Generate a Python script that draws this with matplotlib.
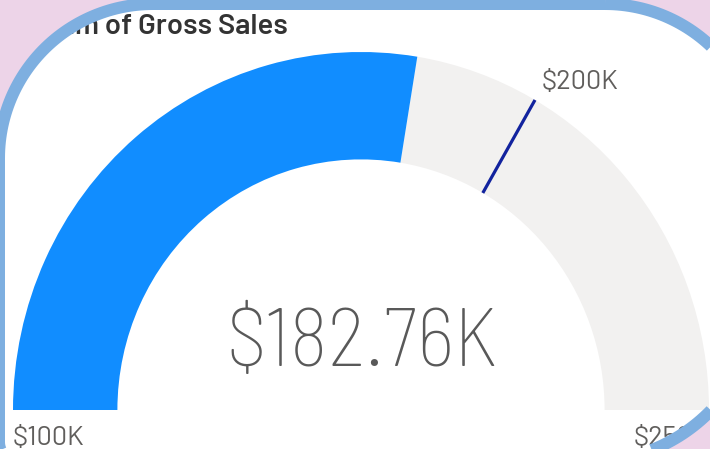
import matplotlib
matplotlib.use("Agg")
import numpy as np
import matplotlib.pyplot as plt
from matplotlib.patches import Wedge, Polygon, PathPatch
from matplotlib.path import Path

# ---- data (thousands of $) ----
gauge_min = 100.0
gauge_max = 250.0
gauge_value = 182.76
gauge_target = 200.0
title_text = "Sum of Gross Sales"
min_label = "$100K"
max_label = "$250K"
target_label = "$200K"
value_label = "$182.76K"

# ---- colours ----
PINK = "#EDD4E8"
BORDER = "#7EAFE0"
BLUE = "#118DFF"
GREY = "#F2F1F0"
TARGET = "#12239E"
LABEL = "#605E5C"
VALUE = "#595959"
TITLE = "#333333"

VALUE_FONT = ["Barlow Semi Condensed", "IBM Plex Sans Condensed", "DejaVu Sans"]
LABEL_FONT = ["Barlow", "IBM Plex Sans", "DejaVu Sans"]

W, H = 710, 449
fig = plt.figure(figsize=(W / 100, H / 100), dpi=100)

# background axes in pixel coordinates
bg = fig.add_axes([0, 0, 1, 1])
bg.set_xlim(0, W)
bg.set_ylim(H, 0)
bg.axis("off")
bg.add_patch(plt.Rectangle((0, 0), W, H, facecolor=PINK, edgecolor="none", zorder=0))


def rounded_rect(xa, ya, xb, yb, radii, n=60):
    r_tr, r_br, r_bl, r_tl = radii
    pts = []
    corners = [(xb - r_tr, ya + r_tr, r_tr, -90, 0), (xb - r_br, yb - r_br, r_br, 0, 90),
               (xa + r_bl, yb - r_bl, r_bl, 90, 180), (xa + r_tl, ya + r_tl, r_tl, 180, 270)]
    for ccx, ccy, r, a0, a1 in corners:
        t = np.radians(np.linspace(a0, a1, n))
        pts += list(zip(ccx + r * np.cos(t), ccy + r * np.sin(t)))
    return np.array(pts)


card_pts = rounded_rect(-1, 4, 759, 462, (154, 170, 20, 154))
card = Polygon(card_pts, closed=True, facecolor="white", edgecolor="none", zorder=1)
bg.add_patch(card)

# gauge axes: centre (0,0), outer radius 1
cx, cy, rx, ry = 361.0, 410.0, 348.0, 358.0
x0, x1 = (0 - cx) / rx, (W - cx) / rx
y0, y1 = (cy - H) / ry, (cy - 0) / ry
ax = fig.add_axes([0, 0, 1, 1])
ax.set_xlim(x0, x1)
ax.set_ylim(y0, y1)
ax.axis("off")
ax.patch.set_alpha(0)

inner = 0.70
frac_v = (gauge_value - gauge_min) / (gauge_max - gauge_min)
frac_t = (gauge_target - gauge_min) / (gauge_max - gauge_min)
ang_v = 180 * (1 - frac_v)
ang_t = 180 * (1 - frac_t)

ax.add_patch(Wedge((0, 0), 1.0, 0, ang_v, width=1 - inner,
                   facecolor=GREY, edgecolor="none", zorder=2))
ax.add_patch(Wedge((0, 0), 1.0, ang_v, 180, width=1 - inner,
                   facecolor=BLUE, edgecolor="none", zorder=3))
ct, st = np.cos(np.radians(ang_t)), np.sin(np.radians(ang_t))
ax.plot([inner * ct, ct], [inner * st, st], color=TARGET,
        lw=2.3, solid_capstyle="butt", zorder=4)

ax.text(0.003, (cy - 366) / ry, value_label, ha="center", va="baseline",
        fontsize=59.5, fontweight="light", family=VALUE_FONT, color=VALUE, zorder=5)
ax.text(-1.0, (cy - 445) / ry, min_label, ha="left", va="baseline",
        fontsize=19.5, family=LABEL_FONT, color=LABEL, zorder=5)
ax.text(1.0, (cy - 445) / ry, max_label, ha="right", va="baseline",
        fontsize=19.5, family=LABEL_FONT, color=LABEL, zorder=5)
ax.text((542 - cx) / rx, (cy - 89) / ry, target_label, ha="left", va="baseline",
        fontsize=19.5, family=LABEL_FONT, color=LABEL, zorder=5)
ax.text(288, 34, title_text, ha="right", va="baseline", transform=bg.transData,
        fontsize=21, fontweight="semibold", family=LABEL_FONT, color=TITLE, zorder=5)

# pink mask outside the card (covers anything spilling past the card edge)
outer_box = np.array([(-50, -50), (W + 50, -50), (W + 50, H + 50), (-50, H + 50)])
verts = np.concatenate([outer_box, outer_box[:1], card_pts[::-1], card_pts[-1:]])
codes = ([Path.MOVETO] + [Path.LINETO] * 3 + [Path.CLOSEPOLY]
         + [Path.MOVETO] + [Path.LINETO] * (len(card_pts) - 1) + [Path.CLOSEPOLY])
mask = PathPatch(Path(verts, codes), facecolor=PINK, edgecolor="none",
                 transform=bg.transData, zorder=9)
ax.add_patch(mask)
mask.set_clip_on(False)

# border on top
border = Polygon(card_pts, closed=True, facecolor="none", edgecolor=BORDER,
                 linewidth=12 * 0.72, transform=bg.transData, zorder=10)
ax.add_patch(border)
border.set_clip_on(False)

fig.savefig("out.png", dpi=100)
